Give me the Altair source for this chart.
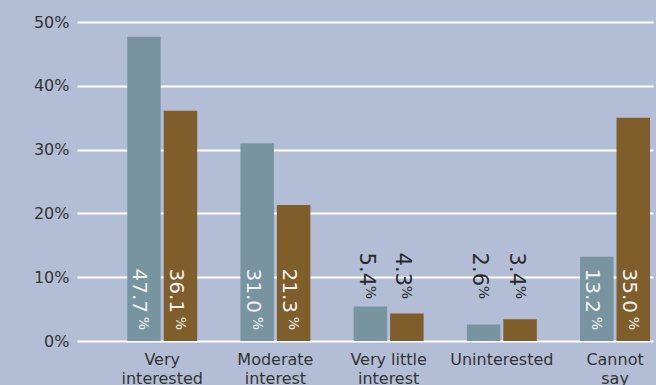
import altair as alt
import pandas as pd

categories = ["Very\ninterested", "Moderate\ninterest", "Very little\ninterest", "Uninterested", "Cannot\nsay"]
series = ["Group A", "Group B"]
values_a = [47.7, 31.0, 5.4, 2.6, 13.2]
values_b = [36.1, 21.3, 4.3, 3.4, 35.0]
y_ticks = [0, 10, 20, 30, 40, 50]

colors = ["#7894a1", "#7f5e2c"]
bg = "#b3bed6"
font = "DejaVu Sans"

rows = []
for c, a, b in zip(categories, values_a, values_b):
    rows.append({"category": c, "series": series[0], "value": a})
    rows.append({"category": c, "series": series[1], "value": b})
df = pd.DataFrame(rows)

x_enc = alt.X(
    "category:N",
    sort=categories,
    scale=alt.Scale(paddingInner=0.382, paddingOuter=0.235, align=0.944),
    axis=alt.Axis(
        title=None, domain=False, ticks=False, labelAngle=0,
        labelExpr="split(datum.label, '\\n')",
        labelFont=font, labelFontSize=16, labelColor="#333333",
        labelPadding=10, labelLineHeight=19,
    ),
)
xoff_enc = alt.XOffset("series:N", sort=series, scale=alt.Scale(paddingInner=0.082, paddingOuter=0))

base = alt.Chart(df)

bars = base.mark_bar().encode(
    x=x_enc,
    xOffset=xoff_enc,
    y=alt.Y(
        "value:Q",
        scale=alt.Scale(domain=[0, 50], nice=False),
        axis=alt.Axis(
            title=None, values=y_ticks, domain=False, ticks=False,
            labelExpr="datum.value + '%'",
            labelFont=font, labelFontSize=16, labelColor="#333333", labelPadding=8,
            grid=True, gridColor="white", gridWidth=2,
        ),
    ),
    color=alt.Color("series:N", sort=series, scale=alt.Scale(domain=series, range=colors), legend=None),
)

inside = base.transform_filter("datum.value >= 10")
outside = base.transform_filter("datum.value < 10")

def num_layer(src, color, dx, size):
    return src.mark_text(
        angle=90, align="right", baseline="alphabetic", font=font, fontSize=size,
        color=color, dx=dx, dy=10.5,
    ).encode(x=x_enc, xOffset=xoff_enc, y=alt.datum(0), text=alt.Text("value:Q", format=".1f"))

def pct_layer(src, color, dx, size):
    return src.mark_text(
        angle=90, align="right", baseline="alphabetic", font=font, fontSize=size,
        color=color, dx=dx, dy=4.5,
    ).encode(x=x_enc, xOffset=xoff_enc, y=alt.datum(0), text=alt.value("%"))

chart = alt.layer(
    bars,
    num_layer(inside, "#f2f2f2", -28, 20),
    pct_layer(inside, "#f2f2f2", -11, 14),
    num_layer(outside, "#2a2a2a", -55, 21),
    pct_layer(outside, "#2a2a2a", -42, 14),
).properties(
    width=576, height=319,
    autosize=alt.AutoSizeParams(type="none"),
    padding={"left": 77, "top": 22, "right": 3, "bottom": 44},
    background=bg,
).configure_view(stroke=None)

chart.save("out.html", embed_options={"renderer": "svg", "actions": False})
